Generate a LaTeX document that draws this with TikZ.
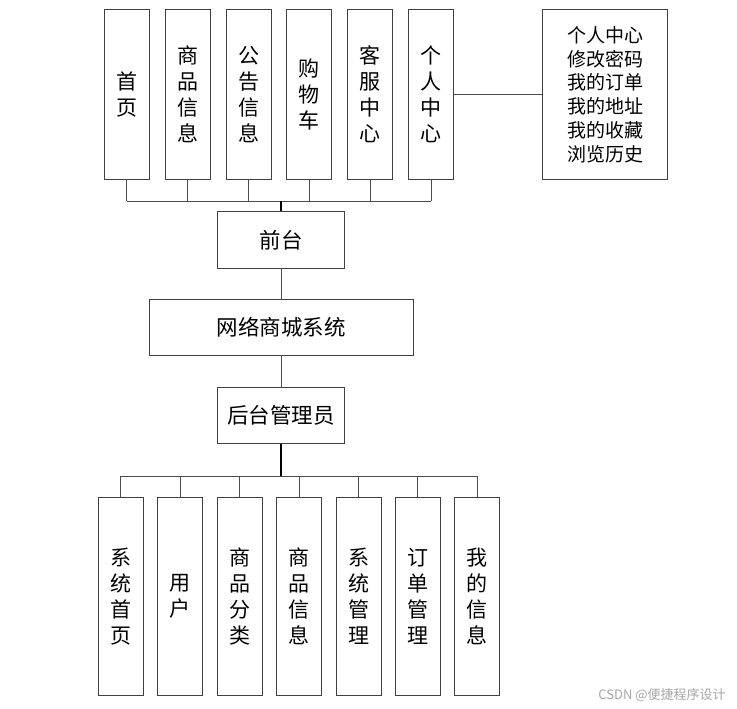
\documentclass[tikz,border=0pt]{standalone}
\usepackage{fontspec}
\newfontfamily\cjk{Noto Sans CJK SC}
\tikzset{
  box/.style={draw=black!75, line width=1pt, inner sep=0pt, fill=white},
  vbox/.style={box, minimum width=45pt, align=center, font=\cjk\fontsize{21}{26}\selectfont},
  hbox/.style={box, font=\cjk\fontsize{21.5}{24}\selectfont},
  link/.style={draw=black!70, line width=1pt},
  trunk/.style={draw=black, line width=2pt}
}
\begin{document}
\begin{tikzpicture}[x=1pt, y=-1pt]
\useasboundingbox (0,0) rectangle (737,709);
% top row
\node[vbox, minimum height=170pt] (t1) at (126.5,94.5) {首\\页};
\node[vbox, minimum height=170pt] (t2) at (187.5,94.5) {商\\品\\信\\息};
\node[vbox, minimum height=170pt] (t3) at (248.5,94.5) {公\\告\\信\\息};
\node[vbox, minimum height=170pt] (t4) at (309.2,94.5) {购\\物\\车};
\node[vbox, minimum height=170pt] (t5) at (370.2,94.5) {客\\服\\中\\心};
\node[vbox, minimum height=170pt] (t6) at (431,94.5) {个\\人\\中\\心};
\node[box, minimum width=125pt, minimum height=170pt, align=center,
      font=\cjk\fontsize{19}{23.8}\selectfont] (pc) at (605,94.5)
      {个人中心\\修改密码\\我的订单\\我的地址\\我的收藏\\浏览历史};
% middle
\node[hbox, minimum width=127pt, minimum height=57pt] (qt) at (281,240) {前台};
\node[hbox, minimum width=264pt, minimum height=56pt] (sys) at (281,327.5) {网络商城系统};
\node[hbox, minimum width=127pt, minimum height=56pt] (ht) at (281,415) {后台管理员};
% bottom row
\node[vbox, minimum height=198pt] (b1) at (120.8,596.5) {系\\统\\首\\页};
\node[vbox, minimum height=198pt] (b2) at (180.2,596.5) {用\\户};
\node[vbox, minimum height=198pt] (b3) at (239.6,596.5) {商\\品\\分\\类};
\node[vbox, minimum height=198pt] (b4) at (299.1,596.5) {商\\品\\信\\息};
\node[vbox, minimum height=198pt] (b5) at (358.5,596.5) {系\\统\\管\\理};
\node[vbox, minimum height=198pt] (b6) at (417.9,596.5) {订\\单\\管\\理};
\node[vbox, minimum height=198pt] (b7) at (477.3,596.5) {我\\的\\信\\息};
% bus coordinates
\coordinate (busT) at (281,201);
\coordinate (busB) at (281,476);
% top connectors
\foreach \n in {t1,t2,t3,t4,t5,t6} { \draw[link] (\n.south) -- (\n.south |- busT); }
\draw[link] (t1.south |- busT) -- (t6.south |- busT);
\draw[trunk] (qt.north) -- (qt.north |- busT);
\draw[link] (t6.east) -- (t6.east -| pc.west);
% middle connectors
\draw[link] (qt.south) -- (sys.north);
\draw[link] (sys.south) -- (ht.north);
% bottom connectors
\draw[trunk] (ht.south) -- (ht.south |- busB);
\foreach \n in {b1,b2,b3,b4,b5,b6,b7} { \draw[link] (\n.north) -- (\n.north |- busB); }
\draw[link] (b1.north |- busB) -- (b7.north |- busB);
% watermark
\node[font=\cjk\fontsize{13}{14}\selectfont, text=black!35, inner sep=0pt] (wm) at (662,695) {CSDN @便捷程序设计};
\end{tikzpicture}
\end{document}
